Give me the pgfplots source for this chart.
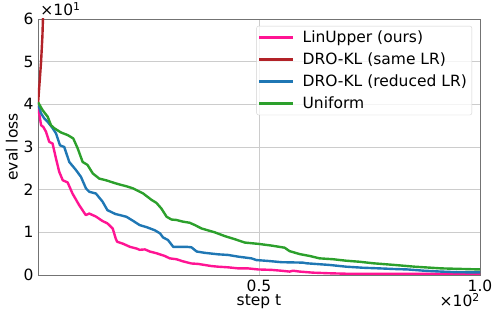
\documentclass[border=0pt]{standalone}
\usepackage{fontspec}
\setmainfont{DejaVu Sans}
\usepackage{pgfplots}
\pgfplotsset{compat=1.18}
\definecolor{cpink}{HTML}{FF1493}
\definecolor{cred}{HTML}{B22228}
\definecolor{cblue}{HTML}{1F77B4}
\definecolor{cgreen}{HTML}{2CA02C}
\begin{document}
\begin{tikzpicture}
\begin{axis}[
  at={(0,0)}, anchor=south west,
  scale only axis, width=442pt, height=256pt,
  xmin=0, xmax=100, ymin=0, ymax=60,
  clip mode=individual,
  xtick={50,100}, xticklabels={0.5,1.0},
  ytick={0,10,20,30,40,50,60}, yticklabels={0,1,2,3,4,5,6},
  major tick length=0pt,
  grid=major,
  grid style={line width=0.8pt, color=black!20},
  axis line style={line width=0.9pt, color=black!55},
  font=\fontsize{15.5}{18}\selectfont,
  tick label style={font=\fontsize{15.5}{18}\selectfont},
  /pgf/number format/assume math mode=true,
  xticklabel style={yshift=-1pt},
  yticklabel style={xshift=-1pt},
  xlabel={step t}, ylabel={eval loss},
  xlabel style={at={(axis description cs:0.5,-0.104)}, anchor=center},
  ylabel style={at={(axis description cs:-0.059,0.5)}, anchor=center},
  legend style={at={(axis description cs:0.982,0.973)}, anchor=north east,
    draw=black!18, rounded corners=2pt, fill=white, fill opacity=0.8, text opacity=1,
    font=\fontsize{15.5}{18}\selectfont, row sep=3.6pt, inner sep=2.5pt,
    nodes={inner sep=2.5pt}},
  legend cell align=left,
  legend image code/.code={\path[draw=none, fill=none] (0pt,-1pt) rectangle (41pt,1pt);\fill[#1, draw=none, fill opacity=1, rounded corners=0pt] (0pt,-1.6pt) rectangle (34pt,1.6pt);},
]
\addplot[cpink, line width=2.4pt, line join=round] coordinates {
(0,39.6) (0.7,35.1) (1.2,34.7) (1.8,33.6) (2.55,31.2) (3.3,30.8) (4.07,27.3) (4.8,24.2)
(5.6,22.2) (6.7,21.7) (7.8,19.1) (9.3,16.4) (10.8,14.05) (11.6,14.4) (13.1,13.7)
(14.6,12.65) (15.7,12.1) (16.9,10.9) (17.6,8.5) (17.9,7.8) (19.3,7.3) (20.8,6.6)
(22.3,6.2) (23.0,5.9) (24.2,6.0) (25.3,5.5) (26.8,5.1) (28.7,4.45) (29.8,3.9)
(31.3,3.7) (32.8,3.2) (34.7,2.7) (36.2,2.6) (37.7,2.35) (39.2,2.1) (40.7,1.95)
(43.0,1.8) (45.3,1.55) (47.5,1.55) (49.8,1.3) (52.8,1.2) (55.1,1.0) (56.9,0.8)
(57.7,1.0) (59.2,0.8) (62.2,0.55) (66.0,0.4) (69.7,0.3) (77.3,0.3) (85,0.3) (100,0.25)
};
\addlegendentry{LinUpper (ours)}
\addplot[cred, line width=2.4pt, line join=round] coordinates {
(0,40) (0.7,50) (1.0,56) (1.3,66)
};
\addlegendentry{DRO-KL (same LR)}
\addplot[cblue, line width=2.4pt, line join=round] coordinates {
(0,40.2) (0.68,37.9) (1.42,36.7) (2.19,35.9) (3.32,34.4) (4.07,33.2) (4.97,30.4)
(5.94,30.0) (7.07,26.5) (8.59,24.6) (9.72,23.0) (10.85,20.3) (11.6,19.5) (13.1,19.1)
(14.6,17.2) (15.7,15.2) (17.5,14.3) (18.5,14.05) (20.0,13.65) (21.5,12.7) (23.0,11.7)
(24.6,11.2) (26.4,10.5) (27.6,9.75) (28.3,8.8) (29.4,8.2) (30.6,6.6) (33.6,6.6)
(34.7,6.5) (35.9,5.5) (37.7,5.2) (40.7,4.85) (43.0,4.7) (45.3,4.3) (48.3,3.9)
(49.4,3.5) (52.0,3.3) (55.1,3.0) (59.9,2.9) (60.7,2.75) (66.0,2.35) (69.7,1.95)
(73.5,1.7) (77.3,1.55) (80.7,1.4) (83.6,1.3) (87.4,1.0) (91.2,0.8) (94.9,0.65) (100,0.6)
};
\addlegendentry{DRO-KL (reduced LR)}
\addplot[cgreen, line width=2.4pt, line join=round] coordinates {
(0,40.5) (1.06,38.6) (2.19,37.1) (2.94,35.1) (3.68,34.4) (5.2,33.4) (6.7,32.8)
(7.98,32.0) (8.97,29.7) (10.1,26.5) (11.2,25.8) (12.4,23.8) (13.85,22.6) (15.4,22.2)
(17.5,21.5) (18.5,21.2) (20.0,20.8) (21.5,20.3) (23.8,19.1) (25.7,17.6) (26.8,16.9)
(27.9,15.6) (29.1,13.65) (30.2,13.0) (31.3,12.9) (32.8,12.5) (34.3,12.25) (35.5,11.7)
(37.0,10.9) (40.0,10.0) (42.3,9.1) (44.5,8.4) (46.8,7.6) (49.8,7.3) (52.8,6.9)
(55.8,6.4) (56.9,5.6) (59.2,4.9) (61.5,4.45) (63.7,3.9) (66.7,3.7) (69.7,3.35)
(72.8,3.1) (75.8,2.75) (80.7,2.35) (85.2,1.95) (91.2,1.55) (100,1.3)
};
\addlegendentry{Uniform}
\node[anchor=south west, inner sep=0pt, font=\fontsize{15.5}{18}\selectfont] at (axis description cs:0.005,1.012) {×10\textsuperscript{1}};
\node[anchor=north east, inner sep=0pt, font=\fontsize{15.5}{18}\selectfont] at (axis description cs:1.0,-0.072) {×10\textsuperscript{2}};
\end{axis}
\pgfresetboundingbox
\path (-38pt,-43pt) rectangle (460pt,275pt);
\end{tikzpicture}
\end{document}
